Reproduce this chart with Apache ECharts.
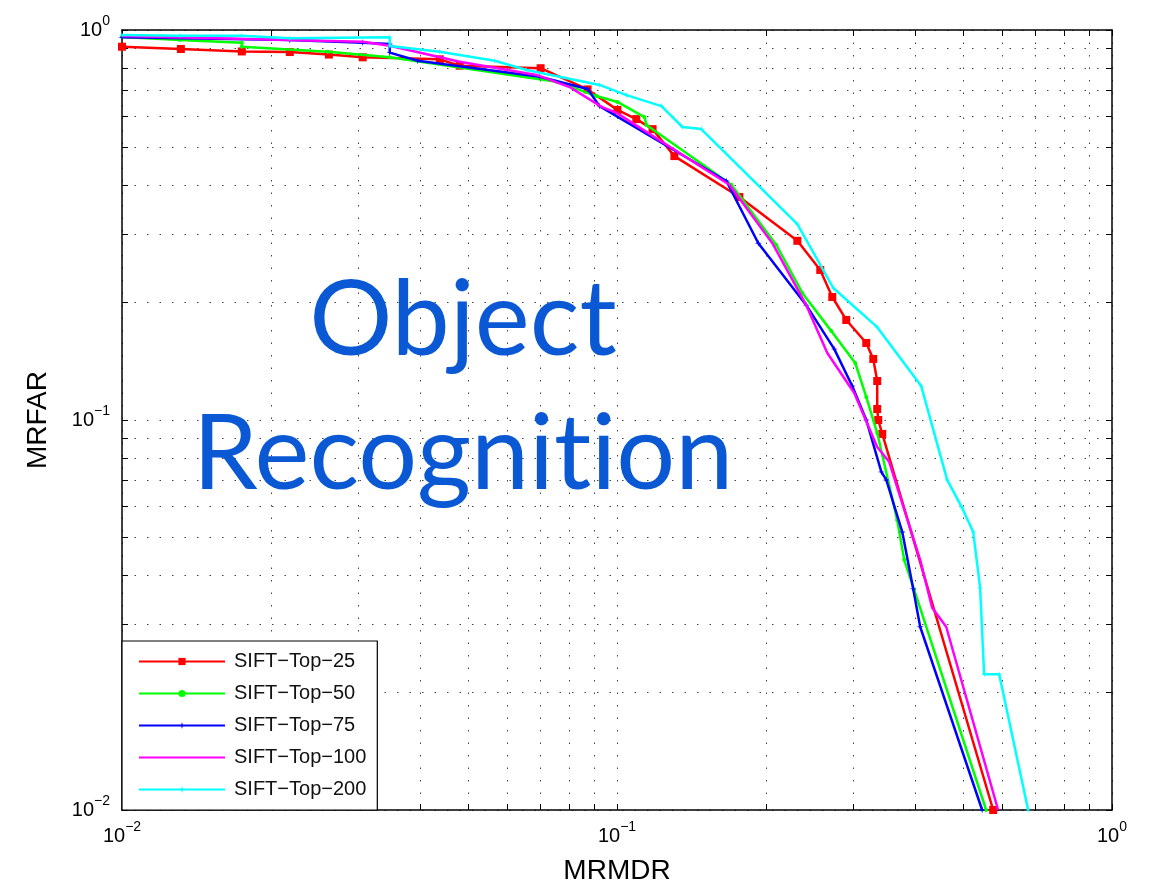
<!DOCTYPE html>
<html><head><meta charset="utf-8">
<script src="https://cdn.jsdelivr.net/npm/echarts@6/dist/echarts.min.js"></script>
<style>html,body{margin:0;padding:0;background:#fff}#c{width:1159px;height:887px}</style>
</head><body><div id="c"></div>
<script>
// ---- data (MRMDR, MRFAR) ----
const seriesNames = ['SIFT\u2212Top\u221225','SIFT\u2212Top\u221250','SIFT\u2212Top\u221275','SIFT\u2212Top\u2212100','SIFT\u2212Top\u2212200'];
const top25 = [[0.01,0.906],[0.01315,0.894],[0.01746,0.881],[0.02183,0.878],[0.02618,0.865],[0.03064,0.851],[0.04385,0.841],[0.0481,0.810],[0.0701,0.798],[0.0872,0.704],[0.1002,0.624],[0.1094,0.591],[0.118,0.557],[0.1306,0.475],[0.1767,0.373],[0.2314,0.288],[0.2574,0.2425],[0.2722,0.2067],[0.2905,0.1805],[0.3188,0.1576],[0.3294,0.1434],[0.3355,0.1259],[0.3355,0.1067],[0.3371,0.100],[0.3435,0.0921],[0.5754,0.01]];
const top50 = [[0.01,0.960],[0.0131,0.943],[0.01746,0.928],[0.01746,0.906],[0.02604,0.880],[0.03474,0.851],[0.0755,0.737],[0.0909,0.677],[0.1002,0.654],[0.1136,0.598],[0.1147,0.571],[0.1702,0.401],[0.2099,0.281],[0.2368,0.2117],[0.271,0.169],[0.3029,0.140],[0.3188,0.1146],[0.3355,0.0926],[0.3681,0.0554],[0.3804,0.0438],[0.3985,0.0367],[0.5568,0.01]];
const top75 = [[0.01,0.958],[0.02183,0.943],[0.03064,0.928],[0.03474,0.921],[0.03474,0.875],[0.03958,0.834],[0.0698,0.759],[0.0872,0.706],[0.0922,0.638],[0.1663,0.410],[0.193,0.284],[0.2412,0.197],[0.2748,0.152],[0.2987,0.1222],[0.3188,0.100],[0.342,0.0736],[0.35,0.0702],[0.377,0.0516],[0.3966,0.0369],[0.4097,0.0295],[0.5466,0.01]];
const top100 = [[0.01,0.965],[0.03064,0.933],[0.03474,0.911],[0.0481,0.829],[0.0688,0.767],[0.0802,0.714],[0.0931,0.635],[0.0998,0.613],[0.1687,0.401],[0.206,0.284],[0.2412,0.197],[0.266,0.1485],[0.3015,0.1173],[0.3355,0.0853],[0.3548,0.078],[0.4097,0.0438],[0.4332,0.033],[0.4624,0.0295],[0.5888,0.01]];
const top200 = [[0.01,0.971],[0.0131,0.967],[0.01746,0.967],[0.02183,0.952],[0.03474,0.958],[0.03474,0.910],[0.04385,0.880],[0.0566,0.834],[0.0657,0.790],[0.0922,0.723],[0.1045,0.681],[0.123,0.638],[0.1356,0.564],[0.148,0.557],[0.2314,0.318],[0.2735,0.218],[0.3355,0.173],[0.4117,0.1222],[0.4645,0.0702],[0.498,0.0595],[0.5244,0.0516],[0.5415,0.0371],[0.5516,0.0223],[0.5916,0.0223],[0.677,0.01]];
const gridValues = [0.01,0.02,0.03,0.04,0.05,0.06,0.07,0.08,0.09,0.1,0.2,0.3,0.4,0.5,0.6,0.7,0.8,0.9,1];
const majorValues = [0.01,0.1,1];
// overlay caption, split into pieces so the font does not form a "ti" ligature
const overlayLines = [['Object'], ['Recognit','ion']];

const colors = ['#ff0000','#00ff00','#0000ff','#ff00ff','#00ffff'];
const starPath = 'path://M5,0 L6,4 L10,5 L6,6 L5,10 L4,6 L0,5 L4,4 Z';
const symbols = ['rect','circle',starPath,'none',starPath];
const symbolSizes = [8,4,7,0,6];
const allData = [top25, top50, top75, top100, top200];

const FONT = '"Liberation Sans", Arial, Helvetica, sans-serif';
function fmt(v){
  const e = Math.round(Math.log10(v));
  return '{b|10}{s|' + (e < 0 ? '\u2212' + (-e) : String(e)) + '}';
}
const rich = {
  b:{fontSize:20, fontFamily:FONT, color:'#000', lineHeight:32},
  s:{fontSize:14, fontFamily:FONT, color:'#000', lineHeight:14, verticalAlign:'top'}
};
function axis(pos, primary, name){
  const o = {
    type:'log', logBase:10, min:0.01, max:1, position:pos,
    axisLine:{show:true, onZero:false, lineStyle:{color:'#000', width:1.5}},
    axisTick:{show:true, inside:true, length:6, customValues:gridValues, lineStyle:{color:'#000', width:1}},
    axisLabel:{show:primary, customValues:majorValues, formatter:fmt, rich:rich, margin: (pos==='bottom'?10:12)},
    splitLine:{show:primary, lineStyle:{color:'#444', width:1, type:[1.5,11]}},
    minorTick:{show:false}, minorSplitLine:{show:false}
  };
  if (name){
    o.name = name; o.nameLocation = 'middle';
    o.nameGap = pos==='bottom' ? 47 : 70;
    o.nameTextStyle = {fontSize:28, fontFamily:FONT, color:'#000'};
  }
  return o;
}
const capRich = {c:{font:'104px Lato, "Open Sans", sans-serif', color:'#0a58d4'}};

const chart = echarts.init(document.getElementById('c'), null, {renderer:'canvas'});
chart.setOption({
  animation:false,
  backgroundColor:'#fff',
  grid:{left:122, right:47, top:30, bottom:77, containLabel:false, outerBoundsMode:'none'},
  xAxis:[axis('bottom', true, 'MRMDR'), axis('top', false)],
  yAxis:[axis('left', true, 'MRFAR'), axis('right', false)],
  legend:{
    orient:'vertical', left:122, bottom:77, selectedMode:false,
    itemWidth:86, itemHeight:9, itemGap:11, padding:[10,11,10,16],
    backgroundColor:'#fff', borderColor:'#000', borderWidth:1.2,
    textStyle:{fontSize:20, fontFamily:FONT, color:'#111', lineHeight:21, padding:[0,0,0,4]},
    data: seriesNames.map((n,i)=> symbols[i]==='none' ? {name:n, itemStyle:{opacity:0}} : {name:n})
  },
  graphic: overlayLines.map((parts,i)=>({
    type:'text', x:463, y: i===0 ? 321 : 455, z:50,
    style:{text: parts.map(p=>'{c|'+p+'}').join(''), rich:capRich, font:'104px Lato, "Open Sans", sans-serif', fill:'#0a58d4', textAlign:'center', textVerticalAlign:'middle'}
  })),
  series: allData.map((d,i)=>({
    type:'line', name:seriesNames[i], data:d, xAxisIndex:0, yAxisIndex:0,
    symbol:symbols[i], symbolSize:symbolSizes[i], showSymbol: symbols[i] !== 'none',
    lineStyle:{color:colors[i], width:2.5}, itemStyle:{color:colors[i]},
    clip:true, z:3+i
  }))
});
</script></body></html>
